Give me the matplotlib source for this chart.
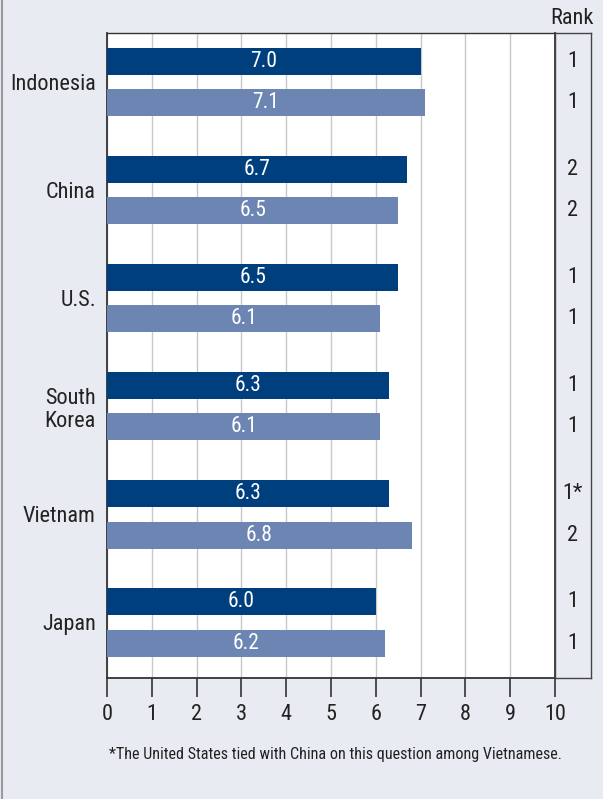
import matplotlib.pyplot as plt

# data
countries = ["Indonesia", "China", "U.S.", "South\nKorea", "Vietnam", "Japan"]
score_a = [7.0, 6.7, 6.5, 6.3, 6.3, 6.0]
score_b = [7.1, 6.5, 6.1, 6.1, 6.8, 6.2]
rank_a = ["1", "2", "1", "1", "1*", "1"]
rank_b = ["1", "2", "1", "1", "2", "1"]
ticks = list(range(0, 11))
footnote = "*The United States tied with China on this question among Vietnamese."

plt.rcParams["font.family"] = ["Roboto Condensed", "Archivo Narrow", "DejaVu Sans"]

bg = "#e8ebf2"
dark = "#003f7d"
light = "#6c85b2"
txt = "#222222"

W, H = 603, 799
fig = plt.figure(figsize=(W / 100, H / 100), dpi=100)
fig.patch.set_facecolor(bg)

def box(x0, y0, x1, y1):
    # pixel box -> figure coords
    return [x0 / W, 1 - y1 / H, (x1 - x0) / W, (y1 - y0) / H]

ax = fig.add_axes(box(107, 33, 555, 678))
ax.set_facecolor("white")

off = 0.19
hgt = 0.25
ypos = list(range(len(countries)))
ya = [y - off for y in ypos]
yb = [y + off for y in ypos]
ax.barh(ya, score_a, height=hgt, color=dark, zorder=3)
ax.barh(yb, score_b, height=hgt, color=light, zorder=3)
for y, v in zip(ya, score_a):
    ax.text(v / 2, y, f"{v:.1f}", color="white", ha="center", va="center", fontsize=15.5, zorder=4)
for y, v in zip(yb, score_b):
    ax.text(v / 2, y, f"{v:.1f}", color="white", ha="center", va="center", fontsize=15.5, zorder=4)

ax.set_xlim(0, 10)
ax.set_ylim(5.514, -0.458)
ax.set_xticks(ticks)
ax.set_xticklabels([str(t) for t in ticks], fontsize=16, color=txt)
ax.tick_params(axis="x", length=14, width=1.2, color="#333333", pad=5)
ax.set_yticks(ypos)
ax.set_yticklabels(countries, fontsize=16, color=txt, ha="right", linespacing=1.15)
ax.tick_params(axis="y", length=0, pad=8)
ax.grid(axis="x", color="#c8c8c8", linewidth=1, zorder=0)
for s in ["left", "bottom", "right"]:
    ax.spines[s].set_color("#333333")
    ax.spines[s].set_linewidth(1.3)
ax.spines["top"].set_color("#333333")
ax.spines["top"].set_linewidth(1.0)
ax.spines["right"].set_zorder(5)

# rank column
rx = fig.add_axes(box(555, 33, 591, 678), sharey=ax)
rx.set_facecolor(bg)
rx.set_xlim(0, 1)
rx.set_xticks([])
rx.tick_params(axis="y", left=False, labelleft=False)
for s in rx.spines.values():
    s.set_color("#444444")
    s.set_linewidth(1.0)
for y, r in zip(ya, rank_a):
    rx.text(0.48, y, r, ha="center", va="center", fontsize=16, color=txt)
for y, r in zip(yb, rank_b):
    rx.text(0.48, y, r, ha="center", va="center", fontsize=16, color=txt)

fig.text(572 / W, 1 - 18 / H, "Rank", ha="center", va="center", fontsize=16, color=txt)
fig.text(335 / W, 1 - 755 / H, footnote, ha="center", va="center", fontsize=11.6, color=txt)

# thin frame edge on the left
fig.add_artist(plt.Line2D([1.5 / W, 1.5 / W], [0, 1], color="#9a9a9a", linewidth=1.5))

fig.savefig("out.png", dpi=100, facecolor=bg)
